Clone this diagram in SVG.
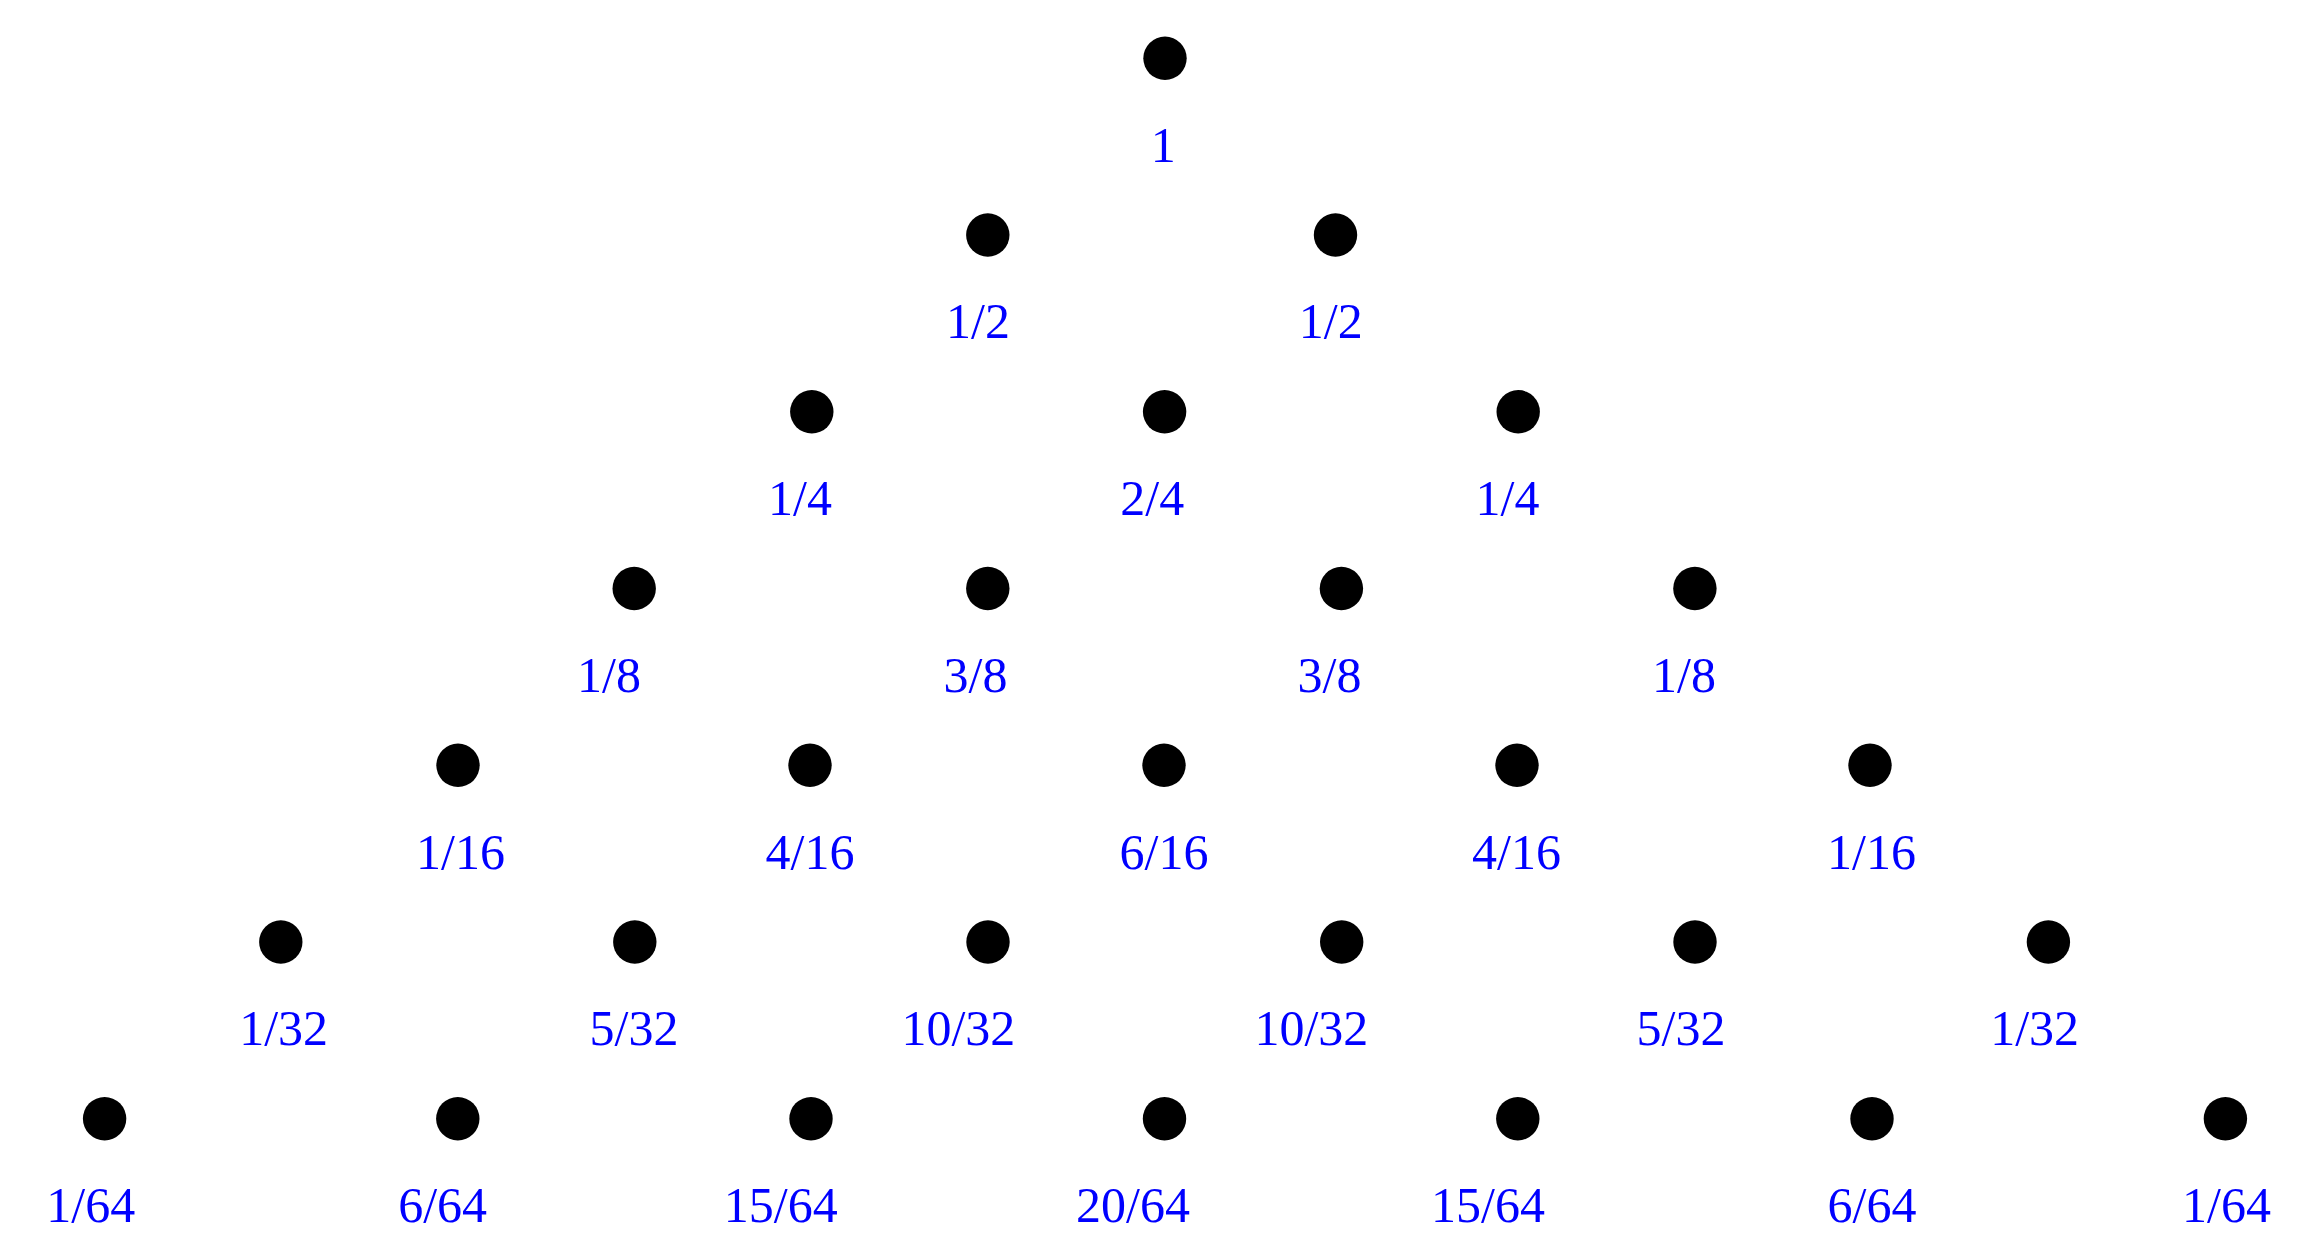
<svg xmlns="http://www.w3.org/2000/svg" width="2305" height="1233" viewBox="0 0 2305 1233">
<style>
.d{fill:#000}
.t{fill:#0000ff;font-family:"Liberation Serif","Times New Roman",serif;font-size:50px;text-anchor:middle}
</style>
<rect width="2305" height="1233" fill="#fff"/>
<g id="connectors"></g>
<g id="n0"><circle class="d" cx="1165" cy="58.3" r="21.7"/><text class="t" x="1163.3" y="161.6">1</text></g>
<g id="n1a"><circle class="d" cx="987.8" cy="235" r="21.7"/><text class="t" x="978" y="338.3">1/2</text></g>
<g id="n1b"><circle class="d" cx="1335.5" cy="235" r="21.7"/><text class="t" x="1330.7" y="338.3">1/2</text></g>
<g id="n2a"><circle class="d" cx="811.8" cy="411.8" r="21.7"/><text class="t" x="800" y="515">1/4</text></g>
<g id="n2b"><circle class="d" cx="1164.6" cy="411.8" r="21.7"/><text class="t" x="1152.3" y="515">2/4</text></g>
<g id="n2c"><circle class="d" cx="1518.2" cy="411.8" r="21.7"/><text class="t" x="1507.5" y="515">1/4</text></g>
<g id="n3a"><circle class="d" cx="634.2" cy="588.5" r="21.7"/><text class="t" x="609" y="691.8">1/8</text></g>
<g id="n3b"><circle class="d" cx="987.8" cy="588.5" r="21.7"/><text class="t" x="975.5" y="691.8">3/8</text></g>
<g id="n3c"><circle class="d" cx="1341.4" cy="588.5" r="21.7"/><text class="t" x="1329.5" y="691.8">3/8</text></g>
<g id="n3d"><circle class="d" cx="1694.9" cy="588.5" r="21.7"/><text class="t" x="1684" y="691.8">1/8</text></g>
<g id="n4a"><circle class="d" cx="458" cy="765.3" r="21.7"/><text class="t" x="460.5" y="868.5">1/16</text></g>
<g id="n4b"><circle class="d" cx="810" cy="765.3" r="21.7"/><text class="t" x="810" y="868.5">4/16</text></g>
<g id="n4c"><circle class="d" cx="1164" cy="765.3" r="21.7"/><text class="t" x="1164" y="868.5">6/16</text></g>
<g id="n4d"><circle class="d" cx="1517" cy="765.3" r="21.7"/><text class="t" x="1516.5" y="868.5">4/16</text></g>
<g id="n4e"><circle class="d" cx="1870" cy="765.3" r="21.7"/><text class="t" x="1871.5" y="868.5">1/16</text></g>
<g id="n5a"><circle class="d" cx="280.8" cy="942" r="21.7"/><text class="t" x="283.6" y="1045.2">1/32</text></g>
<g id="n5b"><circle class="d" cx="634.8" cy="942" r="21.7"/><text class="t" x="634" y="1045.2">5/32</text></g>
<g id="n5c"><circle class="d" cx="988" cy="942" r="21.7"/><text class="t" x="958.4" y="1045.2">10/32</text></g>
<g id="n5d"><circle class="d" cx="1341.7" cy="942" r="21.7"/><text class="t" x="1311.4" y="1045.2">10/32</text></g>
<g id="n5e"><circle class="d" cx="1695" cy="942" r="21.7"/><text class="t" x="1681" y="1045.2">5/32</text></g>
<g id="n5f"><circle class="d" cx="2048.4" cy="942" r="21.7"/><text class="t" x="2034.6" y="1045.2">1/32</text></g>
<g id="n6a"><circle class="d" cx="104.6" cy="1118.7" r="21.7"/><text class="t" x="90.8" y="1221.8">1/64</text></g>
<g id="n6b"><circle class="d" cx="457.8" cy="1118.7" r="21.7"/><text class="t" x="442.6" y="1221.8">6/64</text></g>
<g id="n6c"><circle class="d" cx="811" cy="1118.7" r="21.7"/><text class="t" x="780.7" y="1221.8">15/64</text></g>
<g id="n6d"><circle class="d" cx="1164.5" cy="1118.7" r="21.7"/><text class="t" x="1133" y="1221.8">20/64</text></g>
<g id="n6e"><circle class="d" cx="1517.8" cy="1118.7" r="21.7"/><text class="t" x="1488" y="1221.8">15/64</text></g>
<g id="n6f"><circle class="d" cx="1872" cy="1118.7" r="21.7"/><text class="t" x="1872" y="1221.8">6/64</text></g>
<g id="n6g"><circle class="d" cx="2225.4" cy="1118.7" r="21.7"/><text class="t" x="2226.5" y="1221.8">1/64</text></g>
</svg>
